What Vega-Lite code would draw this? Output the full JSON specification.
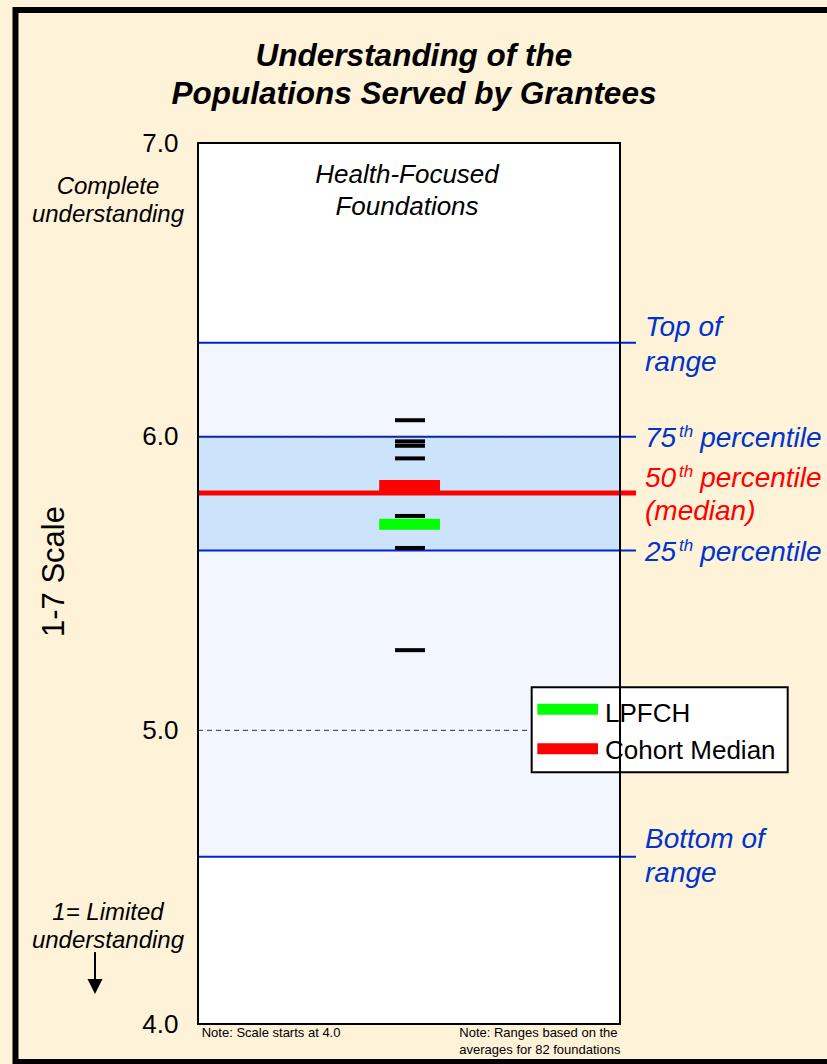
{
  "$schema": "https://vega.github.io/schema/vega-lite/v6.json",
  "width": 422,
  "height": 881,
  "autosize": {"type": "none"},
  "padding": {"left": 198, "top": 143, "right": 207, "bottom": 40},
  "background": "#FEF3D8",
  "config": {
    "view": {"stroke": null},
    "font": "Liberation Sans",
    "text": {"font": "Liberation Sans"},
    "axisY": {"ticks": false, "domain": false, "grid": false,
      "labelFontSize": 26, "labelColor": "black", "labelPadding": 20, "labelFont": "Liberation Sans",
      "titleFontSize": 31, "titleFontWeight": "normal", "titleColor": "black",
      "titleFont": "Liberation Sans", "titlePadding": 71, "titleY": 428}
  },
  "layer": [
    {
      "data": {"values": [{"x1": -0.4325, "x2": 1.502, "y1": 3.871, "y2": 7.453}]},
      "mark": {"type": "rect", "fillOpacity": 0, "stroke": "black", "strokeWidth": 6},
      "encoding": {
        "x": {"field": "x1", "type": "quantitative", "scale": {"domain": [0, 1], "nice": false, "zero": false}, "axis": null},
        "x2": {"field": "x2"},
        "y": {"field": "y1", "type": "quantitative", "scale": {"domain": [4, 7], "nice": false, "zero": false},
          "axis": {"values": [4, 5, 6, 7], "format": ".1f", "title": "1-7 Scale"}},
        "y2": {"field": "y2"}
      }
    },
    {
      "data": {"values": [{"x1": 0, "x2": 1, "y1": 4, "y2": 7}]},
      "mark": {"type": "rect", "fill": "#FFFFFF"},
      "encoding": {
        "x": {"field": "x1", "type": "quantitative", "axis": null}, "x2": {"field": "x2"},
        "y": {"field": "y1", "type": "quantitative"}, "y2": {"field": "y2"}
      }
    },
    {
      "data": {"values": [{"band": "range", "lo": 4.5697, "hi": 6.32}]},
      "mark": {"type": "rect", "fill": "#F2F6FF"},
      "encoding": {
        "x": {"datum": 0, "type": "quantitative", "axis": null}, "x2": {"datum": 1},
        "y": {"field": "lo", "type": "quantitative"}, "y2": {"field": "hi"}
      }
    },
    {
      "data": {"values": [{"band": "interquartile", "lo": 5.612, "hi": 6.0}]},
      "mark": {"type": "rect", "fill": "#CCE4FB"},
      "encoding": {
        "x": {"datum": 0, "type": "quantitative", "axis": null}, "x2": {"datum": 1},
        "y": {"field": "lo", "type": "quantitative"}, "y2": {"field": "hi"}
      }
    },
    {
      "data": {"values": [{"label": "Top of range", "v": 6.32}, {"label": "75th", "v": 6.0}, {"label": "25th", "v": 5.612}, {"label": "Bottom of range", "v": 4.5697}]},
      "mark": {"type": "rule", "stroke": "#0022CC", "strokeWidth": 2},
      "encoding": {
        "x": {"datum": 0, "type": "quantitative", "axis": null}, "x2": {"datum": 1.0379},
        "y": {"field": "v", "type": "quantitative"}
      }
    },
    {
      "data": {"values": [{"v": 5}, {"v": 6}]},
      "mark": {"type": "rule", "stroke": "#333333", "strokeWidth": 1, "strokeDash": [5, 4]},
      "encoding": {
        "x": {"datum": 0, "type": "quantitative", "axis": null}, "x2": {"datum": 1},
        "y": {"field": "v", "type": "quantitative"}
      }
    },
    {
      "data": {"values": [{"label": "50th", "v": 5.808}]},
      "mark": {"type": "rule", "stroke": "#FF0000", "strokeWidth": 5},
      "encoding": {
        "x": {"datum": 0, "type": "quantitative", "axis": null}, "x2": {"datum": 1.0379},
        "y": {"field": "v", "type": "quantitative"}
      }
    },
    {
      "data": {"values": [{"v": 6.056}, {"v": 5.984}, {"v": 5.969}, {"v": 5.926}, {"v": 5.73}, {"v": 5.621}, {"v": 5.273}]},
      "mark": {"type": "rule", "stroke": "#000000", "strokeWidth": 4, "strokeCap": "butt"},
      "encoding": {
        "x": {"datum": 0.4668, "type": "quantitative", "axis": null}, "x2": {"datum": 0.5379},
        "y": {"field": "v", "type": "quantitative"}
      }
    },
    {
      "data": {"values": [{"series": "Cohort Median", "v": 5.834}, {"series": "LPFCH", "v": 5.702}]},
      "mark": {"type": "rule", "strokeWidth": 11, "strokeCap": "butt"},
      "encoding": {
        "x": {"datum": 0.4294, "type": "quantitative", "axis": null}, "x2": {"datum": 0.5735},
        "y": {"field": "v", "type": "quantitative"},
        "color": {"field": "series", "type": "nominal", "scale": {"domain": ["LPFCH", "Cohort Median"], "range": ["#00FF00", "#FF0000"]}, "legend": null}
      }
    },
    {
      "data": {"values": [{"x1": 0.7907, "x2": 1.3974, "y1": 4.8572, "y2": 5.1466}]},
      "mark": {"type": "rect", "fill": "#FFFFFF", "stroke": "#000000", "strokeWidth": 2},
      "encoding": {
        "x": {"field": "x1", "type": "quantitative", "axis": null}, "x2": {"field": "x2"},
        "y": {"field": "y1", "type": "quantitative"}, "y2": {"field": "y2"}
      }
    },
    {
      "data": {"values": [{"series": "LPFCH", "v": 5.0714}, {"series": "Cohort Median", "v": 4.9374}]},
      "mark": {"type": "rule", "strokeWidth": 11, "strokeCap": "butt"},
      "encoding": {
        "x": {"datum": 0.8041, "type": "quantitative", "axis": null}, "x2": {"datum": 0.9479},
        "y": {"field": "v", "type": "quantitative"},
        "color": {"field": "series", "type": "nominal", "legend": null}
      }
    },
    {
      "data": {"values": [{"series": "LPFCH", "v": 5.0284}, {"series": "Cohort Median", "v": 4.9024}]},
      "mark": {"type": "text", "align": "left", "baseline": "alphabetic", "fontSize": 26, "color": "#000000"},
      "encoding": {
        "x": {"datum": 0.9645, "type": "quantitative", "axis": null},
        "y": {"field": "v", "type": "quantitative"},
        "text": {"field": "series"}
      }
    },
    {
      "data": {"values": [{"t": "Complete", "v": 6.8263}, {"t": "understanding", "v": 6.731}, {"t": "1= Limited", "v": 4.3549}, {"t": "understanding", "v": 4.2599}]},
      "mark": {"type": "text", "align": "center", "baseline": "alphabetic", "fontSize": 24, "fontStyle": "italic", "color": "#000000"},
      "encoding": {
        "x": {"datum": -0.2133, "type": "quantitative", "axis": null},
        "y": {"field": "v", "type": "quantitative"},
        "text": {"field": "t"}
      }
    },
    {
      "data": {"values": [{"t": "Understanding of the", "v": 7.2622}, {"t": "Populations Served by Grantees", "v": 7.1339}]},
      "mark": {"type": "text", "align": "center", "baseline": "alphabetic", "fontSize": 31.5, "fontStyle": "italic", "fontWeight": "bold", "color": "#000000"},
      "encoding": {
        "x": {"datum": 0.5118, "type": "quantitative", "axis": null},
        "y": {"field": "v", "type": "quantitative"},
        "text": {"field": "t"}
      }
    },
    {
      "data": {"values": [{"t": "Health-Focused", "v": 6.8638}, {"t": "Foundations", "v": 6.7548}]},
      "mark": {"type": "text", "align": "center", "baseline": "alphabetic", "fontSize": 26, "fontStyle": "italic", "color": "#000000"},
      "encoding": {
        "x": {"datum": 0.4953, "type": "quantitative", "axis": null},
        "y": {"field": "v", "type": "quantitative"},
        "text": {"field": "t"}
      }
    },
    {
      "data": {"values": [{"t": "Top of", "x": 1.0592, "v": 6.3428}, {"t": "range", "x": 1.0592, "v": 6.2247}, {"t": "75", "x": 1.0592, "v": 5.966}, {"t": "percentile", "x": 1.19, "v": 5.966}, {"t": "25", "x": 1.0592, "v": 5.578}, {"t": "percentile", "x": 1.19, "v": 5.578}, {"t": "Bottom of", "x": 1.0592, "v": 4.5983}, {"t": "range", "x": 1.0592, "v": 4.4846}]},
      "mark": {"type": "text", "align": "left", "baseline": "alphabetic", "fontSize": 28, "fontStyle": "italic", "color": "#0033CC"},
      "encoding": {
        "x": {"field": "x", "type": "quantitative", "axis": null},
        "y": {"field": "v", "type": "quantitative"},
        "text": {"field": "t"}
      }
    },
    {
      "data": {"values": [{"t": "50", "x": 1.0592, "v": 5.83}, {"t": "percentile", "x": 1.19, "v": 5.83}, {"t": "(median)", "x": 1.0592, "v": 5.7163}]},
      "mark": {"type": "text", "align": "left", "baseline": "alphabetic", "fontSize": 28, "fontStyle": "italic", "color": "#FF0000"},
      "encoding": {
        "x": {"field": "x", "type": "quantitative", "axis": null},
        "y": {"field": "v", "type": "quantitative"},
        "text": {"field": "t"}
      }
    },
    {
      "data": {"values": [{"t": "th", "v": 5.998}, {"t": "th", "v": 5.609}]},
      "mark": {"type": "text", "align": "left", "baseline": "alphabetic", "fontSize": 17, "fontStyle": "italic", "color": "#0033CC"},
      "encoding": {
        "x": {"datum": 1.1398, "type": "quantitative", "axis": null},
        "y": {"field": "v", "type": "quantitative"},
        "text": {"field": "t"}
      }
    },
    {
      "data": {"values": [{"t": "th", "v": 5.8627}]},
      "mark": {"type": "text", "align": "left", "baseline": "alphabetic", "fontSize": 17, "fontStyle": "italic", "color": "#FF0000"},
      "encoding": {
        "x": {"datum": 1.1398, "type": "quantitative", "axis": null},
        "y": {"field": "v", "type": "quantitative"},
        "text": {"field": "t"}
      }
    },
    {
      "data": {"values": [{"t": "Note: Scale starts at 4.0", "x": 0.0088, "v": 3.9558}, {"t": "Note: Ranges based on the", "x": 0.6192, "v": 3.9558}, {"t": "averages for 82 foundations", "x": 0.6192, "v": 3.898}]},
      "mark": {"type": "text", "align": "left", "baseline": "alphabetic", "fontSize": 13, "color": "#000000"},
      "encoding": {
        "x": {"field": "x", "type": "quantitative", "axis": null},
        "y": {"field": "v", "type": "quantitative"},
        "text": {"field": "t"}
      }
    },
    {
      "data": {"values": [{"v1": 4.245, "v2": 4.14}]},
      "mark": {"type": "rule", "stroke": "#000000", "strokeWidth": 2},
      "encoding": {
        "x": {"datum": -0.2441, "type": "quantitative", "axis": null},
        "y": {"field": "v1", "type": "quantitative"}, "y2": {"field": "v2"}
      }
    },
    {
      "data": {"values": [{"v": 4.128}]},
      "mark": {"type": "point", "shape": "M-1,-1L1,-1L0,1Z", "size": 225, "filled": true, "fill": "#000000", "stroke": null, "opacity": 1},
      "encoding": {
        "x": {"datum": -0.2441, "type": "quantitative", "axis": null},
        "y": {"field": "v", "type": "quantitative"}
      }
    },
    {
      "data": {"values": [{"x1": 0, "x2": 1, "y1": 4, "y2": 7}]},
      "mark": {"type": "rect", "fillOpacity": 0, "stroke": "#000000", "strokeWidth": 2},
      "encoding": {
        "x": {"field": "x1", "type": "quantitative", "axis": null}, "x2": {"field": "x2"},
        "y": {"field": "y1", "type": "quantitative"}, "y2": {"field": "y2"}
      }
    }
  ]
}
